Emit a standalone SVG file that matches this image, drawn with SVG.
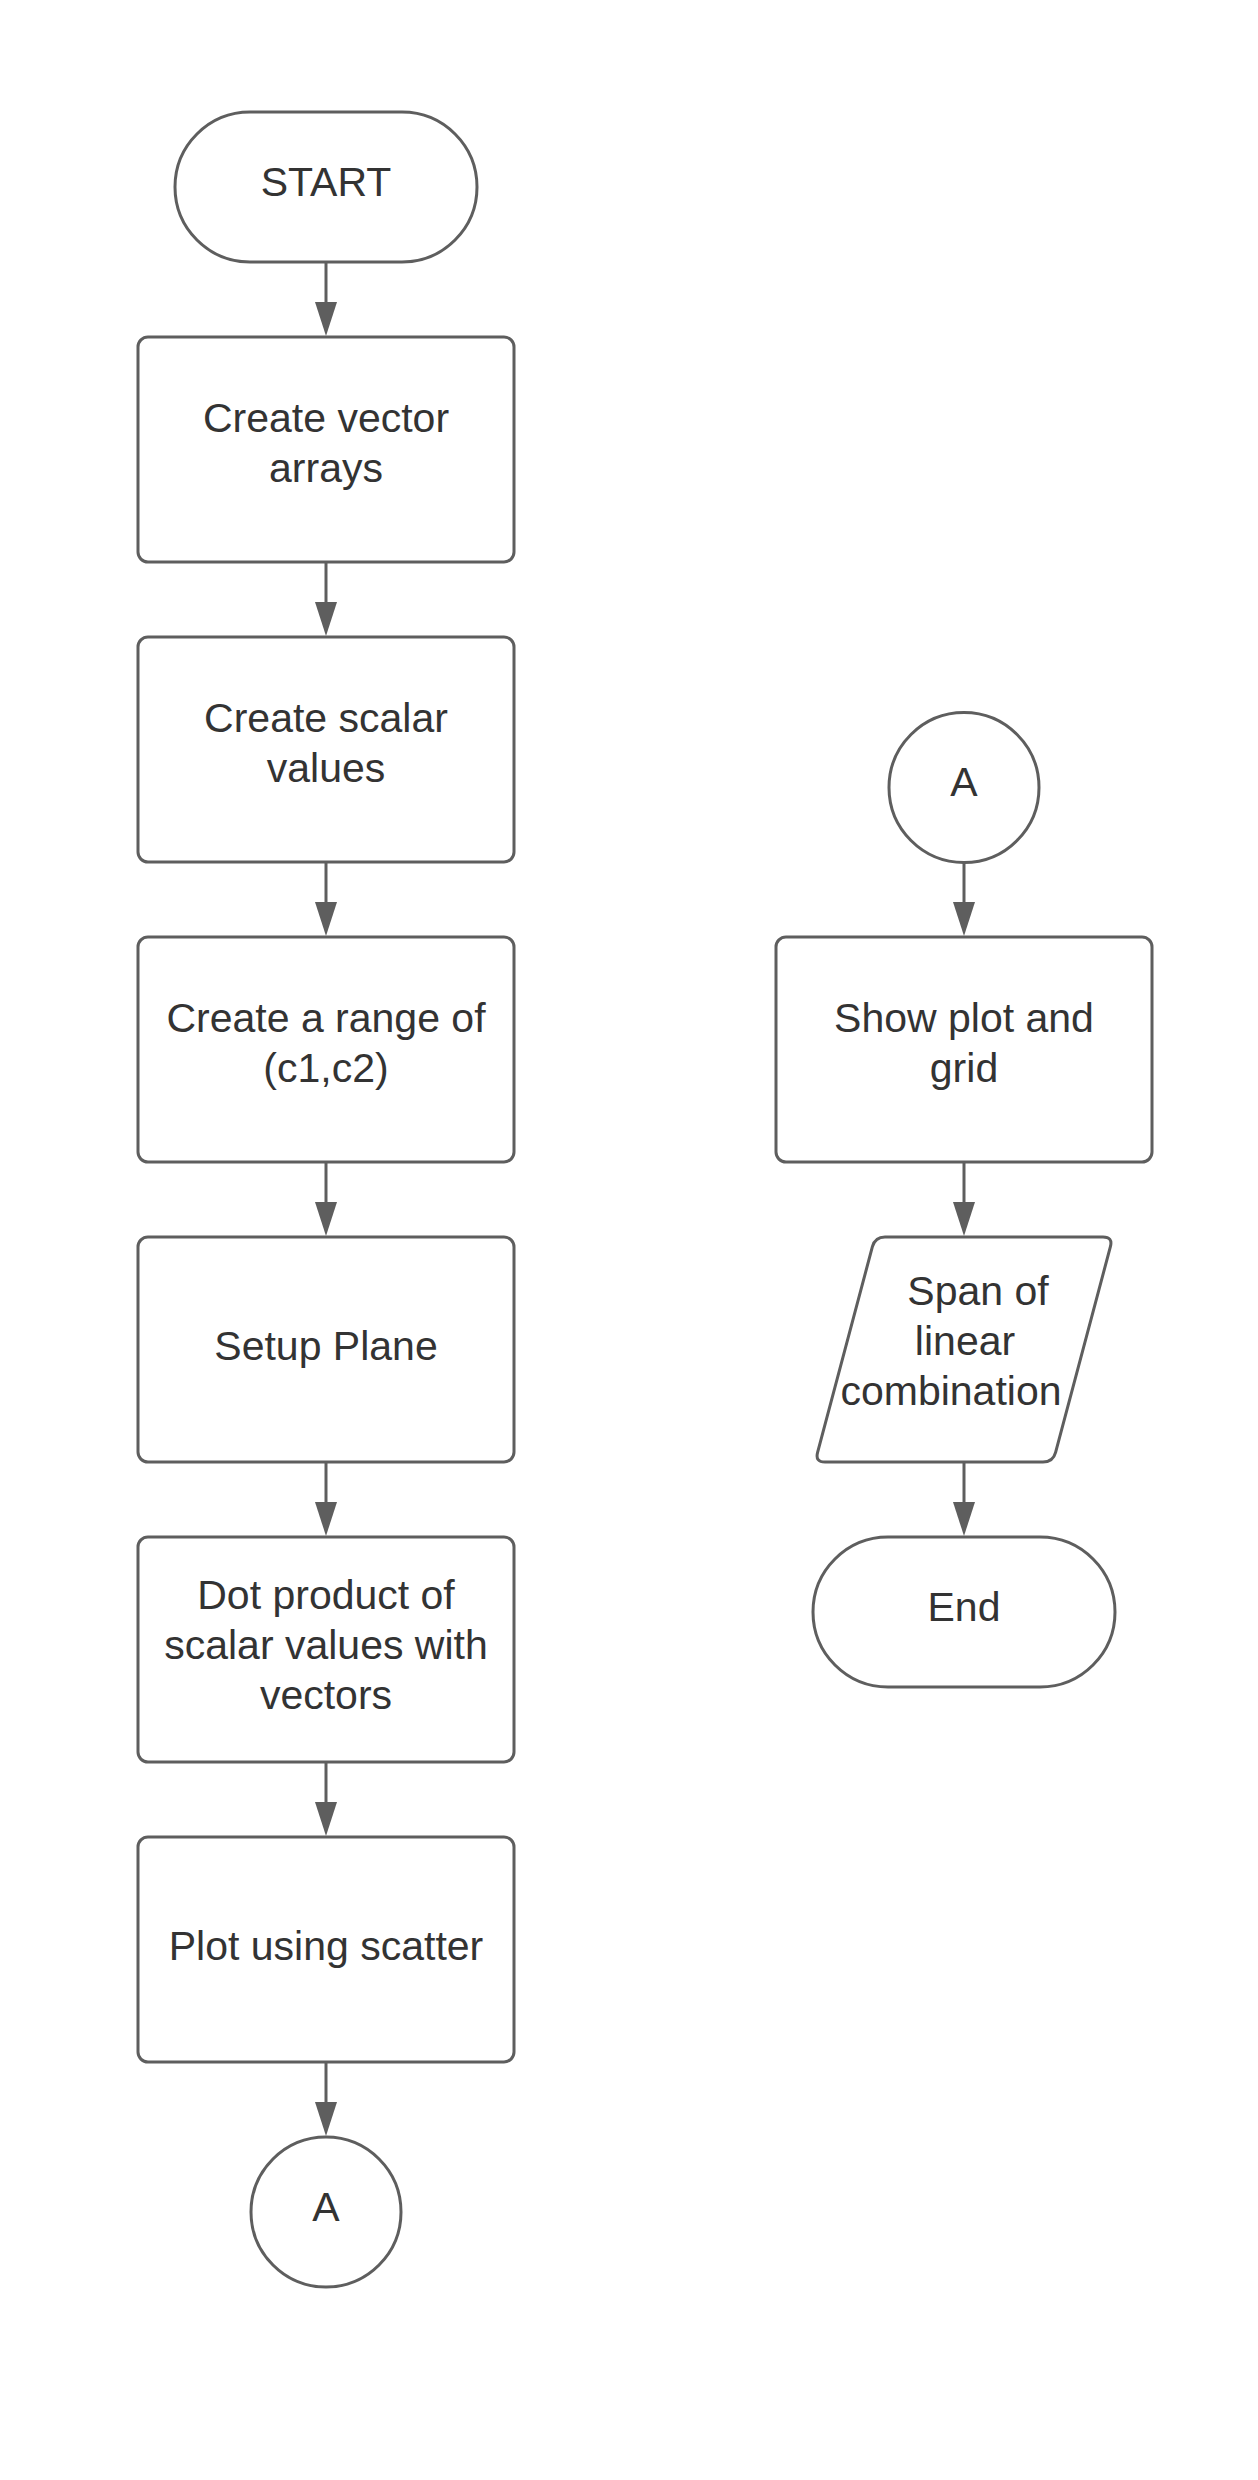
<svg xmlns="http://www.w3.org/2000/svg" width="1258" height="2480" viewBox="0 0 1258 2480">
<style>
.shape{fill:#ffffff;stroke:#5e5e5e;stroke-width:3;}
.conn{stroke:#5e5e5e;stroke-width:3;fill:none;}
.lbl{font-family:"Liberation Sans",Arial,sans-serif;font-size:41px;fill:#333333;text-anchor:middle;}
</style>
<defs>
<marker id="arrow" viewBox="0 0 34 22" refX="0" refY="11" markerWidth="34" markerHeight="22" markerUnits="userSpaceOnUse" orient="auto">
<path d="M0,0 L34,11 L0,22 Z" fill="#5e5e5e"/>
</marker>
</defs>
<rect width="1258" height="2480" fill="#ffffff"/>
<g id="connectors">
<line class="conn" x1="326" y1="262" x2="326" y2="302" marker-end="url(#arrow)"/>
<line class="conn" x1="326" y1="562" x2="326" y2="602" marker-end="url(#arrow)"/>
<line class="conn" x1="326" y1="862" x2="326" y2="902" marker-end="url(#arrow)"/>
<line class="conn" x1="326" y1="1162" x2="326" y2="1202" marker-end="url(#arrow)"/>
<line class="conn" x1="326" y1="1462" x2="326" y2="1502" marker-end="url(#arrow)"/>
<line class="conn" x1="326" y1="1762" x2="326" y2="1802" marker-end="url(#arrow)"/>
<line class="conn" x1="326" y1="2062" x2="326" y2="2102" marker-end="url(#arrow)"/>
<line class="conn" x1="964" y1="863" x2="964" y2="902" marker-end="url(#arrow)"/>
<line class="conn" x1="964" y1="1162" x2="964" y2="1202" marker-end="url(#arrow)"/>
<line class="conn" x1="964" y1="1462" x2="964" y2="1502" marker-end="url(#arrow)"/>
</g>
<g id="start">
<rect class="shape" x="175" y="112" width="302" height="150" rx="75" ry="75"/>
<text class="lbl" x="326" y="196">START</text>
</g>
<g id="create-vector">
<rect class="shape" x="138" y="337" width="376" height="225" rx="10" ry="10"/>
<text class="lbl" x="326" y="432">Create vector</text>
<text class="lbl" x="326" y="482">arrays</text>
</g>
<g id="create-scalar">
<rect class="shape" x="138" y="637" width="376" height="225" rx="10" ry="10"/>
<text class="lbl" x="326" y="732">Create scalar</text>
<text class="lbl" x="326" y="782">values</text>
</g>
<g id="create-range">
<rect class="shape" x="138" y="937" width="376" height="225" rx="10" ry="10"/>
<text class="lbl" x="326" y="1032">Create a range of</text>
<text class="lbl" x="326" y="1082">(c1,c2)</text>
</g>
<g id="setup-plane">
<rect class="shape" x="138" y="1237" width="376" height="225" rx="10" ry="10"/>
<text class="lbl" x="326" y="1360">Setup Plane</text>
</g>
<g id="dot-product">
<rect class="shape" x="138" y="1537" width="376" height="225" rx="10" ry="10"/>
<text class="lbl" x="326" y="1609">Dot product of</text>
<text class="lbl" x="326" y="1659">scalar values with</text>
<text class="lbl" x="326" y="1709">vectors</text>
</g>
<g id="plot-scatter">
<rect class="shape" x="138" y="1837" width="376" height="225" rx="10" ry="10"/>
<text class="lbl" x="326" y="1960">Plot using scatter</text>
</g>
<g id="connector-a-out">
<circle class="shape" cx="326" cy="2212" r="75"/>
<text class="lbl" x="326" y="2221">A</text>
</g>
<g id="connector-a-in">
<circle class="shape" cx="964" cy="787.5" r="75"/>
<text class="lbl" x="964" y="796">A</text>
</g>
<g id="show-plot">
<rect class="shape" x="776" y="937" width="376" height="225" rx="10" ry="10"/>
<text class="lbl" x="964" y="1032">Show plot and</text>
<text class="lbl" x="964" y="1082">grid</text>
</g>
<g id="span">
<path class="shape" d="M885,1237 L1103,1237 Q1113,1237 1110.4,1246.7 L1055.6,1452.3 Q1053,1462 1043,1462 L825,1462 Q815,1462 817.6,1452.3 L872.4,1246.7 Q875,1237 885,1237 Z"/>
<text class="lbl" x="978" y="1305">Span of</text>
<text class="lbl" x="965" y="1355">linear</text>
<text class="lbl" x="951" y="1405">combination</text>
</g>
<g id="end">
<rect class="shape" x="813" y="1537" width="302" height="150" rx="75" ry="75"/>
<text class="lbl" x="964" y="1621">End</text>
</g>
</svg>
